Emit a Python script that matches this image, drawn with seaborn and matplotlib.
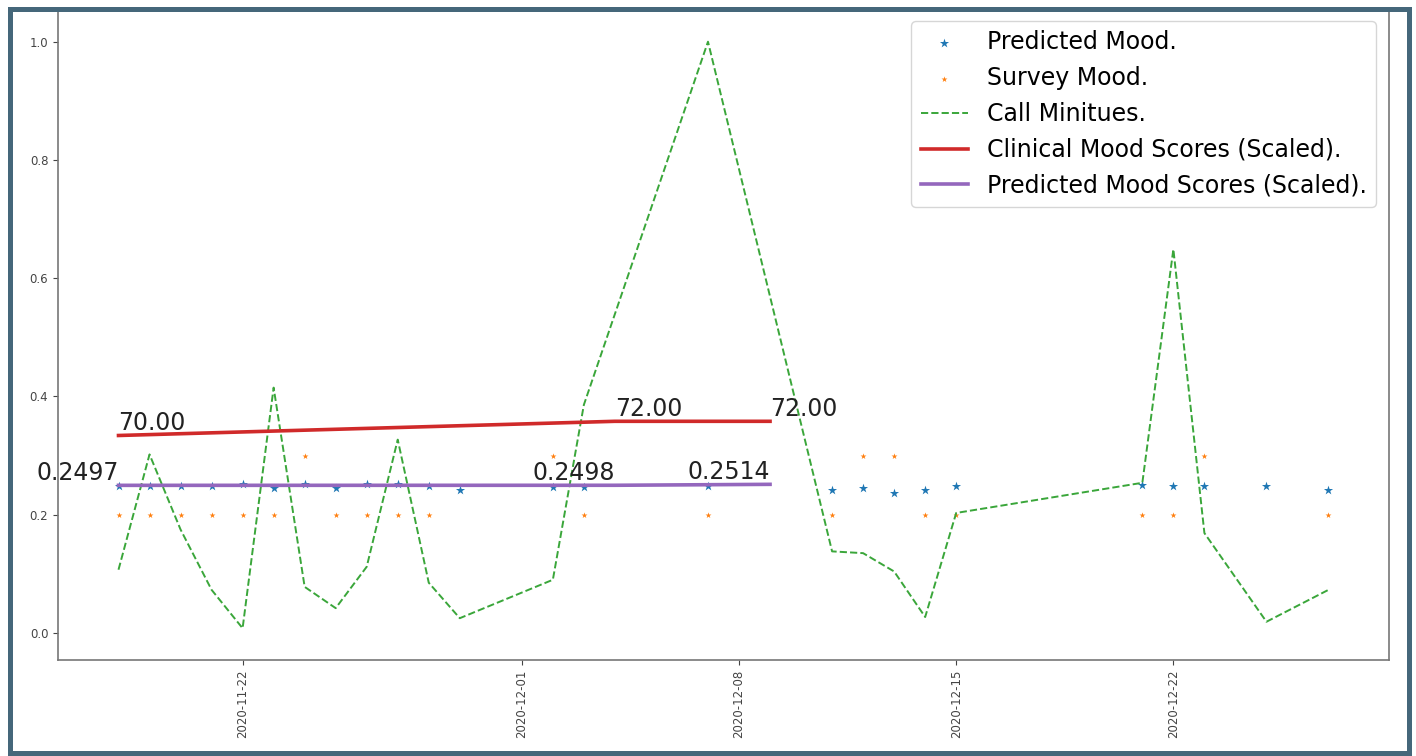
import numpy as np
import pandas as pd
import matplotlib
matplotlib.use('Agg')
import matplotlib.pyplot as plt
import matplotlib.dates as mdates
from matplotlib.patches import Rectangle
import seaborn as sns

# daily data (scaled 0..1)
dates = ['2020-11-18', '2020-11-19', '2020-11-20', '2020-11-21', '2020-11-22', '2020-11-23',
         '2020-11-24', '2020-11-25', '2020-11-26', '2020-11-27', '2020-11-28', '2020-11-29',
         '2020-12-02', '2020-12-03', '2020-12-07', '2020-12-11', '2020-12-12', '2020-12-13',
         '2020-12-14', '2020-12-15', '2020-12-21', '2020-12-22', '2020-12-23', '2020-12-25',
         '2020-12-27']
predicted_mood = [0.249, 0.248, 0.249, 0.248, 0.252, 0.246, 0.252, 0.246, 0.252, 0.252, 0.248, 0.242,
                  0.247, 0.247, 0.248, 0.242, 0.245, 0.236, 0.242, 0.249, 0.251, 0.249, 0.248, 0.248,
                  0.242]
survey_mood = [0.2, 0.2, 0.2, 0.2, 0.2, 0.2, 0.3, 0.2, 0.2, 0.2, 0.2, np.nan,
               0.3, 0.2, 0.2, 0.2, 0.3, 0.3, 0.2, 0.2, 0.2, 0.2, 0.3, np.nan, 0.2]
call_minutes = [0.107, 0.302, 0.175, 0.073, 0.008, 0.415, 0.078, 0.042, 0.112, 0.327, 0.085, 0.025,
                0.090, 0.386, 1.000, 0.138, 0.135, 0.104, 0.027, 0.203, 0.254, 0.649, 0.169, 0.019,
                0.073]

# clinical vs predicted scores (scaled), with their labels
score_dates = ['2020-11-18', '2020-12-04', '2020-12-09']
clinical_scaled = [0.334, 0.358, 0.358]
clinical_labels = ['70.00', '72.00', '72.00']
predicted_scaled = [0.2497, 0.2498, 0.2514]
predicted_labels = ['0.2497', '0.2498', '0.2514']

tick_dates = ['2020-11-22', '2020-12-01', '2020-12-08', '2020-12-15', '2020-12-22']

df = pd.DataFrame({'date': pd.to_datetime(dates), 'pred': predicted_mood,
                   'survey': survey_mood, 'calls': call_minutes})
scores = pd.DataFrame({'date': pd.to_datetime(score_dates), 'clinical': clinical_scaled,
                       'predicted': predicted_scaled})

fig = plt.figure(figsize=(14.16, 7.56), dpi=100)
ax = fig.add_axes([58/1416, 96/756, (1389-58)/1416, (660-8)/756])

sns.scatterplot(data=df, x='date', y='pred', marker='*', s=48, color='#1f77b4',
                linewidth=0, label='Predicted Mood.', ax=ax)
sns.scatterplot(data=df.dropna(subset=['survey']), x='date', y='survey', marker='*', s=20,
                color='#ff7f0e', linewidth=0, label='Survey Mood.', ax=ax)
sns.lineplot(data=df, x='date', y='calls', color='#3aa63a', linestyle='--', linewidth=1.4,
             label='Call Minitues.', ax=ax)
sns.lineplot(data=scores, x='date', y='clinical', color='#d02a2a', linewidth=2.6,
             label='Clinical Mood Scores (Scaled).', ax=ax)
sns.lineplot(data=scores, x='date', y='predicted', color='#9467bd', linewidth=2.6,
             label='Predicted Mood Scores (Scaled).', ax=ax)

for d, v, t in zip(scores['date'], clinical_scaled, clinical_labels):
    ax.text(d, v, t, fontsize=17, ha='left', va='bottom', color='#222222')
for d, v, t in zip(scores['date'], predicted_scaled, predicted_labels):
    ax.text(d, v, t, fontsize=17, ha='right', va='bottom', color='#222222')

ax.set_ylim(-0.0457, 1.057)
ax.set_yticks([0.0, 0.2, 0.4, 0.6, 0.8, 1.0])
ax.set_xticks(pd.to_datetime(tick_dates))
ax.xaxis.set_major_formatter(mdates.DateFormatter('%Y-%m-%d'))
ax.tick_params(axis='x', labelrotation=90, labelsize=8.5, colors='#444444')
ax.tick_params(axis='y', labelsize=8.5, colors='#444444')
ax.set_xlabel('')
ax.set_ylabel('')
for sp in ax.spines.values():
    sp.set_color('#777777')
    sp.set_linewidth(1.2)

ax.legend(loc='upper right', fontsize=17, borderaxespad=0.55)

# outer frame around the picture
fig.add_artist(Rectangle((9.5/1416, 3/756), (1409-9.5)/1416, (747-3)/756, transform=fig.transFigure,
                         fill=False, edgecolor='#45677a', linewidth=3.6, zorder=10))

fig.savefig('out.png', dpi=100)
